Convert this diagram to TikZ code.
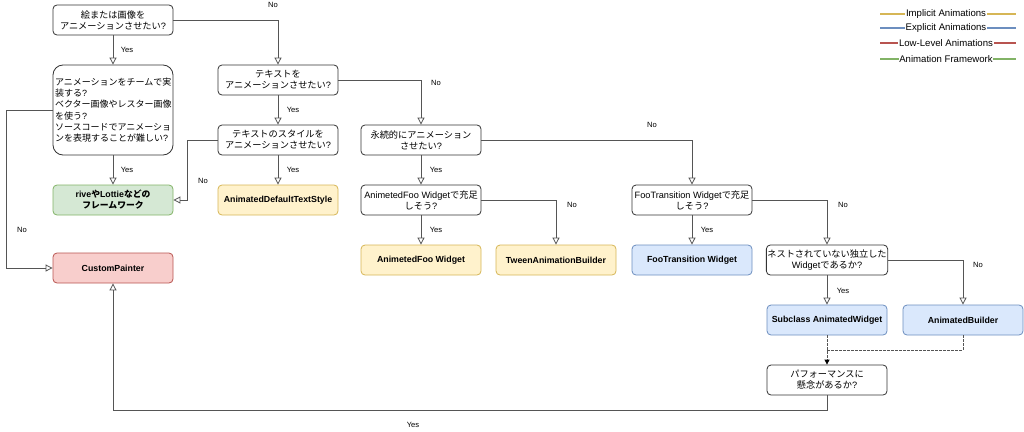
\documentclass[tikz,border=0pt]{standalone}
\usepackage{fontspec}
\setmainfont{Liberation Sans}
\newfontfamily\jp{Noto Sans CJK JP}
\usetikzlibrary{arrows.meta,calc}
\definecolor{boxline}{HTML}{333333}
\definecolor{conn}{HTML}{555555}
\definecolor{gfill}{HTML}{D5E8D4}\definecolor{gline}{HTML}{82B366}
\definecolor{yfill}{HTML}{FFF2CC}\definecolor{yline}{HTML}{D6B656}
\definecolor{rfill}{HTML}{F8CECC}\definecolor{rline}{HTML}{B85450}
\definecolor{bfill}{HTML}{DAE8FC}\definecolor{bline}{HTML}{6C8EBF}
\tikzset{
  qbox/.style={draw=boxline, line width=0.8pt, rounded corners=4pt, fill=white,
    minimum width=120pt, minimum height=30pt, inner sep=1pt, align=center,
    font=\fontsize{9.2}{11}\selectfont},
  abox/.style={qbox, font=\fontsize{8.8}{11}\selectfont\bfseries},
  green box/.style={abox, fill=gfill, draw=gline},
  yellow box/.style={abox, fill=yfill, draw=yline},
  red box/.style={abox, fill=rfill, draw=rline},
  blue box/.style={abox, fill=bfill, draw=bline},
  arr/.style={draw=conn, line width=0.8pt, -{Triangle[open, length=7pt, width=7pt]}},
  dasharr/.style={draw=conn, line width=0.8pt, dash pattern=on 2.5pt off 1.5pt, -{Triangle[length=5pt, width=5pt, color=black]}},
  dashline/.style={draw=conn, line width=0.8pt, dash pattern=on 2.5pt off 1.5pt},
  lbl/.style={font=\fontsize{7.6}{9}\selectfont, inner sep=0pt},
  legline/.style={line width=1.6pt},
  legtext/.style={font=\fontsize{9.6}{11}\selectfont, fill=white, inner sep=0.6pt},
}
\begin{document}
\begin{tikzpicture}[x=1pt,y=-1pt]
\useasboundingbox (0,0) rectangle (1024,431);
% nodes
\node[qbox] (q1) at (113,20) {{\jp 絵または画像を}\\{\jp アニメーションさせたい}?};
\node[qbox, minimum height=90pt, rounded corners=10pt, align=left, text width=116pt,
  font=\fontsize{9}{11.3}\selectfont] (q2) at (113,110)
  {{\jp アニメーションをチームで実}\\{\jp 装する}?\\{\jp ベクター画像やレスター画像}\\{\jp を使う}?\\{\jp ソースコードでアニメーショ}\\{\jp ンを表現することが難しい}?};
\node[green box] (rive) at (113,200) {rive{\jp や}Lottie{\jp などの}\\{\jp フレームワーク}};
\node[red box] (cp) at (113,268) {CustomPainter};
\node[qbox] (q3) at (278,80) {{\jp テキストを}\\{\jp アニメーションさせたい}?};
\node[qbox] (q4) at (278,140) {{\jp テキストのスタイルを}\\{\jp アニメーションさせたい}?};
\node[yellow box] (adts) at (278,200) {AnimatedDefaultTextStyle};
\node[qbox] (q5) at (421,140) {{\jp 永続的にアニメーション}\\{\jp させたい}?};
\node[qbox] (q6) at (421,200) {AnimetedFoo Widget{\jp で充足}\\{\jp しそう}?};
\node[yellow box] (afw) at (421,260) {AnimetedFoo Widget};
\node[yellow box] (tab) at (556,260) {TweenAnimationBuilder};
\node[qbox] (q7) at (692,200) {FooTransition Widget{\jp で充足}\\{\jp しそう}?};
\node[blue box] (ftw) at (692,260) {FooTransition Widget};
\node[qbox] (q8) at (827,260) {{\jp ネストされていない独立した}\\Widget{\jp であるか}?};
\node[blue box] (saw) at (827,320) {Subclass AnimatedWidget};
\node[blue box] (ab) at (963,320) {AnimatedBuilder};
\node[qbox] (q9) at (827,380) {{\jp パフォーマンスに}\\{\jp 懸念があるか}?};
% connectors
\draw[arr] (q1) -- (q2);
\node[lbl] (l1) at (127,50) {Yes};
\draw[arr] (q1.east) -| (q3.north);
\node[lbl] (l2) at (273,5) {No};
\draw[arr] (q2) -- (rive);
\node[lbl] (l3) at (127,170) {Yes};
\draw[arr] (q2.west) -- ++(-46,0) |- (cp.west);
\node[lbl] (l4) at (22,230) {No};
\draw[arr] (q3) -- (q4);
\node[lbl] (l5) at (293,110) {Yes};
\draw[arr] (q3.east) -| (q5.north);
\node[lbl] (l6) at (436,83) {No};
\draw[arr] (q4.west) -- ++(-30,0) |- (rive.east);
\node[lbl] (l7) at (203,181) {No};
\draw[arr] (q4) -- (adts);
\node[lbl] (l8) at (293,170) {Yes};
\draw[arr] (q5) -- (q6);
\node[lbl] (l9) at (436,170) {Yes};
\draw[arr] (q5.east) -| (q7.north);
\node[lbl] (l10) at (652,125) {No};
\draw[arr] (q6) -- (afw);
\node[lbl] (l11) at (436,230) {Yes};
\draw[arr] (q6.east) -| (tab.north);
\node[lbl] (l12) at (572,205) {No};
\draw[arr] (q7) -- (ftw);
\node[lbl] (l13) at (707,230) {Yes};
\draw[arr] (q7.east) -| (q8.north);
\node[lbl] (l14) at (843,205) {No};
\draw[arr] (q8) -- (saw);
\node[lbl] (l15) at (843,291) {Yes};
\draw[arr] (q8.east) -| (ab.north);
\node[lbl] (l16) at (978,265) {No};
\coordinate (mid) at (827,350);
\draw[dashline] (ab.south) |- (mid);
\draw[dasharr] (saw) -- (q9);
\draw[arr] (q9.south) -- ++(0,15) -| (cp.south);
\node[lbl] (l17) at (413,425) {Yes};
% legend
\draw[legline, yline] (880,14) -- (1016,14);
\node[legtext] (lg1) at (946,14) {Implicit Animations};
\draw[legline, bline] (880,28) -- (1016,28);
\node[legtext] (lg2) at (946,28) {Explicit Animations};
\draw[legline, rline] (880,43) -- (1016,43);
\node[legtext] (lg3) at (946,43) {Low-Level Animations};
\draw[legline, gline] (880,59) -- (1016,59);
\node[legtext] (lg4) at (946,59) {Animation Framework};
\end{tikzpicture}
\end{document}
